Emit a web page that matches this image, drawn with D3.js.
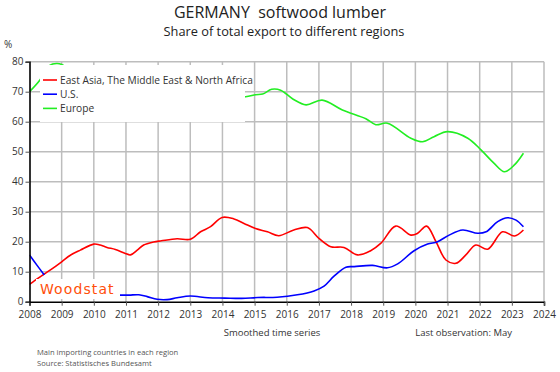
<!DOCTYPE html>
<meta charset="utf-8">
<head>
  <title>Germany softwood lumber export shares</title>
  <style>
    body { margin: 0; background: #fff; }
    text { font-family: "Open Sans", sans-serif; fill: #222; }
    .grid line { stroke: #bdbdbd; stroke-width: 1.5px; }
    .series { fill: none; stroke-width: 1.6px; }
  </style>
</head>
<body>
  <svg width="560" height="372"></svg>
  <script src="https://cdn.jsdelivr.net/npm/d3@7"></script>
  <script>
    // series values, [year, %]; null = gap
    var eastAsia = [
      [2008.0, 5.8], [2008.12, 6.7], [2008.33, 8.3], [2008.64, 10.5], [2009.0, 13.3],
      [2009.27, 15.5], [2009.58, 17.2], [2010.0, 19.2], [2010.2, 18.9], [2010.41, 18.1],
      [2010.67, 17.4], [2010.98, 16.1], [2011.14, 15.6], [2011.35, 17.2], [2011.55, 18.9],
      [2011.86, 19.9], [2012.1, 20.3], [2012.59, 21.0], [2013.0, 20.8], [2013.32, 23.3],
      [2013.63, 25.0], [2013.99, 28.1], [2014.36, 27.6], [2014.67, 26.1], [2015.03, 24.4],
      [2015.4, 23.3], [2015.75, 22.0], [2016.22, 23.9], [2016.64, 24.7], [2017.0, 21.1],
      [2017.37, 18.3], [2017.78, 18.1], [2018.2, 15.6], [2018.61, 17.0], [2018.93, 19.5],
      [2019.39, 25.2], [2019.86, 22.2], [2020.07, 22.8], [2020.35, 25.2], [2020.64, 20.0],
      [2020.95, 13.9], [2021.26, 12.8], [2021.57, 15.6], [2021.88, 18.9], [2022.25, 17.5],
      [2022.71, 23.3], [2023.08, 21.9], [2023.36, 23.9]
    ];
    var us = [
      [2008.0, 15.6], [2008.23, 12.2], [2008.46, 8.9], [2008.47, null],
      [2010.8, 2.2], [2011.1, 2.2], [2011.4, 2.3], [2011.66, 1.7], [2011.97, 0.8],
      [2012.28, 0.7], [2012.59, 1.3], [2013.0, 1.9], [2013.55, 1.3], [2014.07, 1.2],
      [2014.6, 1.1], [2015.1, 1.4], [2015.7, 1.5], [2016.33, 2.3], [2016.85, 3.6],
      [2017.16, 5.2], [2017.47, 8.5], [2017.84, 11.5], [2018.1, 11.7], [2018.67, 12.1],
      [2019.13, 11.3], [2019.45, 12.6], [2019.96, 17.0], [2020.38, 19.2], [2020.69, 20.0],
      [2021.05, 22.2], [2021.47, 23.9], [2021.94, 22.8], [2022.2, 23.3], [2022.56, 26.7],
      [2022.87, 28.0], [2023.13, 27.2], [2023.36, 25.0]
    ];
    var europe = [
      [2008.0, 70.0], [2008.33, 74.0], [2008.55, 78.0], [2008.72, 79.2], [2008.86, 79.4],
      [2009.0, 79.1], [2009.4, 76.5], [2010.0, 74.0], [2011.0, 72.0], [2012.0, 71.0],
      [2013.0, 70.0], [2014.0, 69.0], [2014.72, 68.3], [2015.03, 69.0], [2015.25, 69.2],
      [2015.53, 70.8], [2015.81, 70.5], [2016.2, 67.5], [2016.6, 65.6], [2017.1, 67.2],
      [2017.73, 63.9], [2018.46, 61.0], [2018.77, 59.0], [2019.13, 59.5], [2019.86, 54.5],
      [2020.22, 53.3], [2020.58, 55.0], [2021.0, 56.7], [2021.63, 54.5], [2022.04, 50.6],
      [2022.45, 46.1], [2022.77, 43.3], [2023.08, 45.6], [2023.36, 49.5]
    ];
    var seriesNames = ["East Asia, The Middle East & North Africa", "U.S.", "Europe"];
    var seriesColors = ["#ff0000", "#0000ff", "#22ee22"];
    var xTicks = d3.range(2008, 2025);
    var yTicks = d3.range(0, 81, 10);

    var svg = d3.select("svg");
    var x = d3.scaleLinear().domain([2008, 2024]).range([29.5, 544]);
    var y = d3.scaleLinear().domain([0, 80]).range([301.7, 61.7]);

    svg.append("defs").append("clipPath").attr("id", "plot")
      .append("rect").attr("x", x(2008)).attr("y", y(80))
      .attr("width", x(2024) - x(2008)).attr("height", y(0) - y(80));

    // titles
    svg.append("text").attr("x", 280).attr("y", 17.5).attr("text-anchor", "middle")
      .style("font-size", "16px").text("GERMANY\u00a0\u00a0softwood lumber");
    svg.append("text").attr("x", 284).attr("y", 35.5).attr("text-anchor", "middle")
      .style("font-size", "12.8px").text("Share of total export to different regions");
    svg.append("text").attr("x", 4).attr("y", 48).style("font-size", "10px").style("fill", "#333").text("%");

    // grid
    var grid = svg.append("g").attr("class", "grid");
    grid.selectAll(".h").data(yTicks.slice(1)).enter().append("line")
      .attr("x1", x(2008)).attr("x2", x(2024))
      .attr("y1", function(d) { return y(d); }).attr("y2", function(d) { return y(d); });
    grid.selectAll(".v").data(xTicks.slice(1)).enter().append("line")
      .attr("y1", y(0)).attr("y2", y(80))
      .attr("x1", function(d) { return x(d); }).attr("x2", function(d) { return x(d); });

    // lines
    var line = d3.line()
      .defined(function(d) { return d[1] != null; })
      .x(function(d) { return x(d[0]); })
      .y(function(d) { return y(d[1]); })
      .curve(d3.curveCatmullRom);

    var plot = svg.append("g").attr("clip-path", "url(#plot)");
    [eastAsia, us, europe].forEach(function(s, i) {
      plot.append("path").attr("class", "series")
        .attr("stroke", seriesColors[i]).attr("d", line(s));
    });

    // legend (white box covers the lines behind it)
    var legend = svg.append("g");
    legend.append("rect").attr("x", 40).attr("y", 65).attr("width", 205).attr("height", 57).attr("fill", "#fff");
    seriesNames.forEach(function(name, i) {
      var ly = 80 + i * 14.2;
      legend.append("line").attr("x1", 43).attr("x2", 57).attr("y1", ly).attr("y2", ly)
        .attr("stroke", seriesColors[i]).attr("stroke-width", 1.6);
      legend.append("text").attr("x", 60).attr("y", ly + 3.7)
        .style("font-size", "10.2px").style("fill", "#333").text(name);
    });

    // watermark
    svg.append("rect").attr("x", 36).attr("y", 279).attr("width", 84).attr("height", 20).attr("fill", "#fff");
    svg.append("text").attr("x", 40).attr("y", 293.5).style("font-size", "14px")
      .style("font-family", "DejaVu Sans").style("letter-spacing", "1.1px")
      .style("fill", "#ff4f0a").text("Woodstat");

    // axes
    var xAxis = svg.append("g").attr("transform", "translate(0," + y(0) + ")")
      .call(d3.axisBottom(x).tickValues(xTicks).tickFormat(d3.format("d")).tickSize(4).tickPadding(5));
    var yAxis = svg.append("g").attr("transform", "translate(" + x(2008) + ",0)")
      .call(d3.axisLeft(y).tickValues(yTicks).tickSize(4).tickPadding(2));
    [xAxis, yAxis].forEach(function(a) {
      a.select(".domain").attr("stroke", "#000").attr("stroke-width", 1.6);
      a.selectAll(".tick line").attr("stroke", "#555");
      a.selectAll(".tick text")
        .style("font-family", "Open Sans, sans-serif").style("font-size", "10px").style("fill", "#333");
    });
    yAxis.selectAll(".tick text").attr("dy", "0.28em");

    // notes
    svg.append("text").attr("x", 272).attr("y", 336).attr("text-anchor", "middle")
      .style("font-size", "9.5px").style("fill", "#333").text("Smoothed time series");
    svg.append("text").attr("x", 512).attr("y", 336).attr("text-anchor", "end")
      .style("font-size", "9.5px").style("fill", "#333").text("Last observation: May");
    svg.append("text").attr("x", 37).attr("y", 355).style("font-size", "7.6px")
      .style("fill", "#555").text("Main importing countries in each region");
    svg.append("text").attr("x", 37).attr("y", 366).style("font-size", "7.6px")
      .style("fill", "#555").text("Source: Statistisches Bundesamt");
  </script>
</body>
</html>
